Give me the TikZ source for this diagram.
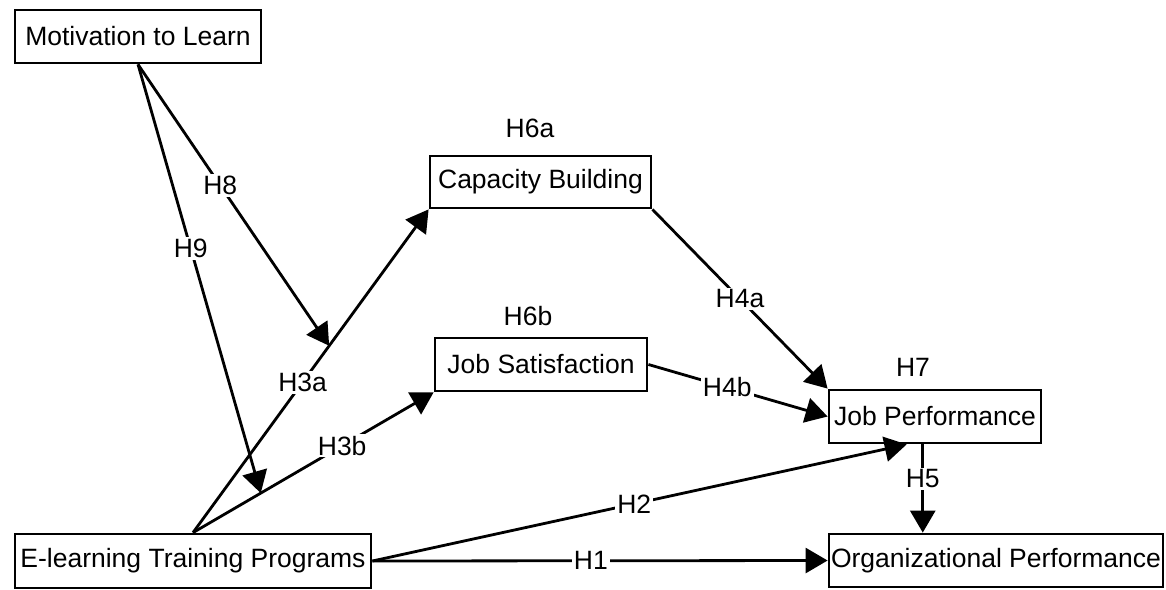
\documentclass[tikz,border=0pt]{standalone}
\usepackage{fontspec}
\setmainfont{Liberation Sans}
\usetikzlibrary{arrows.meta,calc}
\begin{document}
\begin{tikzpicture}[x=1pt,y=-1pt,
  every node/.style={font=\fontsize{26.5}{30}\selectfont},
  box/.style={draw,line width=2.8pt,inner sep=0pt,line join=miter},
  conn/.style={line width=2.8pt},
  arr/.style={conn,-{Triangle[length=22pt,width=25pt]}},
  elab/.style={fill=white,inner sep=2pt},
  hlab/.style={inner sep=0pt}]
\useasboundingbox (0,0) rectangle (1166,589);
% boxes
\node[box,minimum width=246pt,minimum height=53pt] (mot) at (138,36.5) {Motivation to Learn};
\node[box,minimum width=221pt,minimum height=52pt] (cb) at (540.5,182) {Capacity Building};
\node[box,minimum width=212pt,minimum height=53pt] (js) at (541,364.5) {Job Satisfaction};
\node[box,minimum width=212pt,minimum height=53pt] (jp) at (935,416.5) {Job Performance};
\node[box,minimum width=356pt,minimum height=54pt] (el) at (193,561) {E-learning Training Programs};
\node[box,minimum width=334pt,minimum height=53pt] (op) at (996,560.5) {Organizational Performance};
% free labels
\node[hlab] (h6a) at (530,128) {H6a};
\node[hlab] (h6b) at (528,316) {H6b};
\node[hlab] (h7) at (913,367) {H7};
% connectors
\draw[arr] (el.north) -- coordinate[pos=0.578] (m8) node[elab,pos=0.465] (l3a) {H3a} (cb.south west);
\draw[arr] (el.north) -- coordinate[pos=0.2817] (m9) node[elab,pos=0.62] (l3b) {H3b} (js.south west);
\draw[arr] (mot.south) -- node[elab,pos=0.43] (l8) {H8} (m8);
\draw[arr] (mot.south) -- node[elab,pos=0.43] (l9) {H9} (m9);
\draw[arr] (cb.south east) -- node[elab,pos=0.5] (l4a) {H4a} (jp.north west);
\draw[arr] (js.east) -- node[elab,pos=0.44] (l4b) {H4b} (jp.west);
\coordinate (jpin) at ($(jp.south west)!0.368!(jp.south east)$);
\draw[arr] (el.east) -- node[elab,pos=0.49] (l2) {H2} (jpin);
\draw[arr] (el.east) -- node[elab,pos=0.48] (l1) {H1} (op.west);
\coordinate (jpout) at ($(jp.south west)!0.443!(jp.south east)$);
\coordinate (opin) at (jpout |- op.north);
\draw[arr] (jpout) -- node[elab,pos=0.39] (l5) {H5} (opin);
\end{tikzpicture}
\end{document}
